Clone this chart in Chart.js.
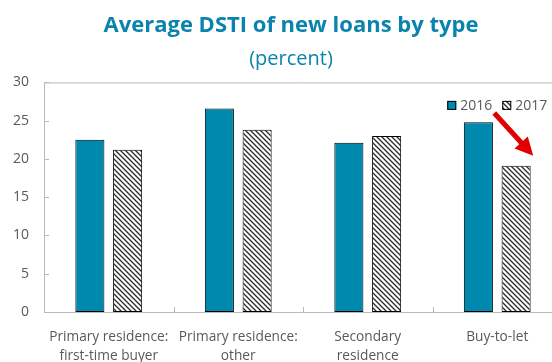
<!DOCTYPE html>
<html>
<head>
<meta charset="utf-8">
<script src="https://cdn.jsdelivr.net/npm/chart.js@4.4.0/dist/chart.umd.min.js"></script>
<style>
  html, body { margin: 0; padding: 0; background: #fff; overflow: hidden; width: 552px; height: 362px; }
  #wrap { width: 582px; height: 362px; }
</style>
</head>
<body>
<div id="wrap"><canvas id="c" width="582" height="362"></canvas></div>
<script>
// Loan categories (two-line labels) and average DSTI values per year
const categories = [
  ["Primary residence:", "first-time buyer"],
  ["Primary residence:", "other"],
  ["Secondary", "residence"],
  ["Buy-to-let"]
];
const seriesLabels = ["2016", "2017"];
const values2016 = [22.5, 26.6, 22.1, 24.8];
const values2017 = [21.2, 23.8, 23.0, 19.1];
const yTicks = [0, 5, 10, 15, 20, 25, 30];

const TEAL = '#0089ae';
const AXIS = '#b9b9b9';
const TEXT = '#595959';
const FONT = '"Open Sans", "DejaVu Sans", sans-serif';

// Diagonal hatch fill for the 2017 bars
function makeHatch() {
  const s = 5;
  const p = document.createElement('canvas');
  p.width = s; p.height = s;
  const g = p.getContext('2d');
  g.fillStyle = '#ffffff';
  g.fillRect(0, 0, s, s);
  g.strokeStyle = '#2a2a2a';
  g.lineWidth = 1.3;
  g.beginPath();
  g.moveTo(-1, -1); g.lineTo(s + 1, s + 1);
  g.moveTo(-1, s - 1); g.lineTo(1, s + 1);
  g.moveTo(s - 1, -1); g.lineTo(s + 1, 1);
  g.stroke();
  return g.createPattern(p, 'repeat');
}
const hatch = makeHatch();

// Plot frame, inside tick marks, legend and the red arrow
const decorations = {
  id: 'decorations',
  afterDraw(chart) {
    const ctx = chart.ctx;
    const a = chart.chartArea;
    const x = chart.scales.x, y = chart.scales.y;
    ctx.save();
    ctx.strokeStyle = AXIS;
    ctx.lineWidth = 1;
    // frame
    ctx.beginPath();
    ctx.moveTo(a.left + 0.5, a.bottom + 0.5);
    ctx.lineTo(a.left + 0.5, a.top + 0.5);
    ctx.lineTo(a.right + 0.5, a.top + 0.5);
    ctx.lineTo(a.right + 0.5, a.bottom + 0.5);
    ctx.closePath();
    ctx.stroke();
    // inside ticks on y
    ctx.beginPath();
    yTicks.forEach(v => {
      const py = Math.round(y.getPixelForValue(v)) + 0.5;
      ctx.moveTo(a.left, py); ctx.lineTo(a.left + 5, py);
    });
    // inside ticks between categories on x
    for (let i = 1; i < categories.length; i++) {
      const px = Math.round((x.getPixelForValue(i - 1) + x.getPixelForValue(i)) / 2) + 0.5;
      ctx.moveTo(px, a.bottom); ctx.lineTo(px, a.bottom - 5);
    }
    ctx.stroke();

    // legend
    const cx = x.getPixelForValue(categories.length - 1);
    const ly = a.top + 23;
    const ds = chart.data.datasets;
    const items = [cx - 50, cx + 5];
    ctx.font = '14px ' + FONT;
    ctx.textBaseline = 'middle';
    ctx.textAlign = 'left';
    items.forEach((lx, i) => {
      ctx.fillStyle = ds[i].backgroundColor;
      ctx.fillRect(lx, ly - 4.5, 9, 9);
      ctx.strokeStyle = '#000';
      ctx.lineWidth = 1;
      ctx.strokeRect(lx + 0.5, ly - 4.5 + 0.5, 8, 8);
      ctx.fillStyle = TEXT;
      ctx.fillText(ds[i].label, lx + 13, ly + 1);
    });

    // red arrow pointing at the drop in buy-to-let
    const sx = cx - 3, sy = y.getPixelForValue(26.0);
    const tx = cx + 36, ty = y.getPixelForValue(20.4);
    const dx = tx - sx, dy = ty - sy, len = Math.hypot(dx, dy);
    const ux = dx / len, uy = dy / len;
    const headLen = 18, headHalf = 9;
    const bx = tx - ux * headLen, by = ty - uy * headLen;
    ctx.strokeStyle = '#e00000';
    ctx.fillStyle = '#e00000';
    ctx.lineWidth = 5;
    ctx.lineCap = 'butt';
    ctx.beginPath();
    ctx.moveTo(sx, sy);
    ctx.lineTo(bx + ux * 2, by + uy * 2);
    ctx.stroke();
    ctx.beginPath();
    ctx.moveTo(tx, ty);
    ctx.lineTo(bx - uy * headHalf, by + ux * headHalf);
    ctx.lineTo(bx + uy * headHalf, by - ux * headHalf);
    ctx.closePath();
    ctx.fill();
    ctx.restore();
  }
};

new Chart(document.getElementById('c'), {
  type: 'bar',
  data: {
    labels: categories,
    datasets: [
      { label: seriesLabels[0], data: values2016, backgroundColor: TEAL, borderColor: '#000', borderWidth: 1, borderSkipped: false },
      { label: seriesLabels[1], data: values2017, backgroundColor: hatch, borderColor: '#000', borderWidth: 1, borderSkipped: false }
    ]
  },
  options: {
    responsive: false,
    animation: false,
    devicePixelRatio: 1,
    categoryPercentage: 0.583,
    barPercentage: 0.77,
    layout: { padding: { left: 0, right: 0, top: 0, bottom: 0 } },
    plugins: {
      legend: { display: false },
      tooltip: { enabled: false },
      title: {
        display: true,
        text: 'Average DSTI of new loans by type',
        color: '#0a84ad',
        font: { family: FONT, size: 22, weight: 'bold' },
        padding: { top: 13, bottom: 8 }
      },
      subtitle: {
        display: true,
        text: '(percent)',
        color: '#0a84ad',
        font: { family: FONT, size: 20, weight: 'normal' },
        padding: { top: 0, bottom: 11 }
      }
    },
    scales: {
      x: {
        grid: { display: false, drawTicks: false },
        border: { display: false },
        ticks: { color: TEXT, font: { family: FONT, size: 13.7, lineHeight: 1.35 }, padding: 16, maxRotation: 0, autoSkip: false },
        afterFit(s) { s.height = 50; }
      },
      y: {
        min: 0, max: 30,
        grid: { display: false, drawTicks: false },
        border: { display: false },
        afterBuildTicks(s) { s.ticks = yTicks.map(v => ({ value: v })); },
        ticks: { color: TEXT, font: { family: FONT, size: 14 }, padding: 15 },
        afterFit(s) { s.width = 44; }
      },
      // empty right-hand axis: reserves the strip beyond the plot frame
      yRight: {
        position: 'right',
        min: 0, max: 30,
        grid: { display: false, drawTicks: false },
        border: { display: false },
        ticks: { display: false },
        afterFit(s) { s.width = 20; }
      }
    }
  },
  plugins: [decorations]
});
</script>
</body>
</html>
